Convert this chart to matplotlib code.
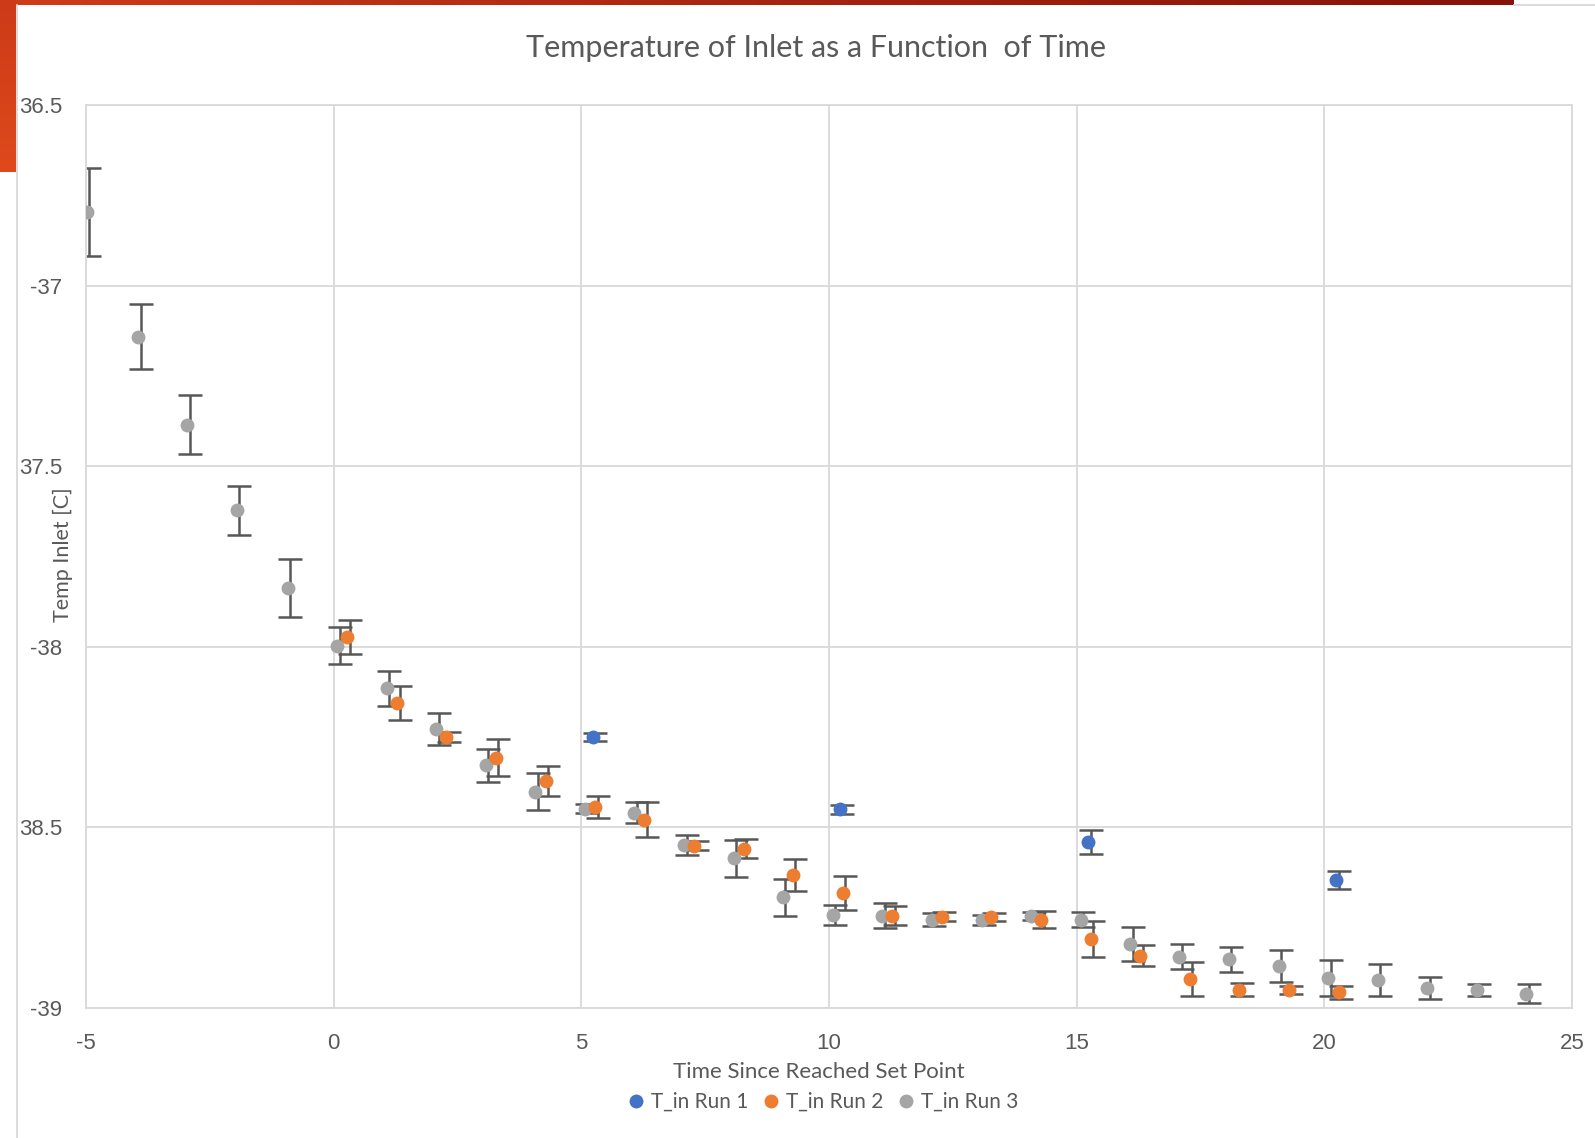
import numpy as np
import matplotlib
matplotlib.use("Agg")
from matplotlib import pyplot as plt
from matplotlib import transforms
from matplotlib.lines import Line2D
from matplotlib.colors import LinearSegmentedColormap

plt.rcParams["axes.unicode_minus"] = False

# run 1 (blue)
t_run1 = [5.23, 10.22, 15.23, 20.24]
temp_run1 = [-38.250, -38.450, -38.541, -38.646]
err_run1 = [0.012, 0.012, 0.034, 0.024]

# run 2 (orange)
t_run2 = [0.27, 1.28, 2.27, 3.27, 4.28, 5.28, 6.27, 7.28, 8.28, 9.27, 10.28,
          11.28, 12.28, 13.28, 14.28, 15.28, 16.28, 17.28, 18.28, 19.28, 20.29]
temp_run2 = [-37.973, -38.155, -38.250, -38.307, -38.372, -38.443, -38.479,
             -38.551, -38.559, -38.632, -38.682, -38.744, -38.747, -38.747,
             -38.755, -38.808, -38.855, -38.920, -38.949, -38.950, -38.957]
err_run2 = [0.047, 0.047, 0.014, 0.051, 0.041, 0.030, 0.048, 0.012, 0.027,
            0.044, 0.047, 0.027, 0.012, 0.011, 0.024, 0.050, 0.030, 0.047,
            0.018, 0.010, 0.017]

# run 3 (gray)
t_run3 = [-4.98, -3.95, -2.96, -1.96, -0.93, 0.07, 1.07, 2.07, 3.07, 4.07,
          5.07, 6.07, 7.08, 8.08, 9.07, 10.08, 11.08, 12.07, 13.08, 14.08,
          15.08, 16.08, 17.07, 18.07, 19.08, 20.08, 21.08, 22.08, 23.08, 24.08]
temp_run3 = [-36.797, -37.141, -37.385, -37.622, -37.837, -37.997, -38.115,
             -38.227, -38.328, -38.401, -38.448, -38.459, -38.548, -38.586,
             -38.693, -38.743, -38.744, -38.755, -38.756, -38.745, -38.755,
             -38.824, -38.858, -38.865, -38.883, -38.917, -38.922, -38.944,
             -38.950, -38.960]
err_run3 = [0.122, 0.089, 0.081, 0.068, 0.081, 0.051, 0.048, 0.044, 0.045,
            0.051, 0.013, 0.028, 0.028, 0.051, 0.051, 0.027, 0.034, 0.017,
            0.014, 0.010, 0.020, 0.047, 0.034, 0.034, 0.044, 0.051, 0.044,
            0.030, 0.017, 0.027]

x_ticks = [-5, 0, 5, 10, 15, 20, 25]
y_ticks = [-39, -38.5, -38, -37.5, -37, -36.5]
# the left edge of the slide cuts off some minus signs
y_ticklabels = ["-39", "38.5", "-38", "37.5", "-37", "36.5"]

series = [
    ("T_in Run 1", t_run1, temp_run1, err_run1, "#4472C4"),
    ("T_in Run 2", t_run2, temp_run2, err_run2, "#ED7D31"),
    ("T_in Run 3", t_run3, temp_run3, err_run3, "#A5A5A5"),
]

W, H = 1595, 1138
fig = plt.figure(figsize=(W / 100, H / 100), dpi=100)
text_col = "#595959"
grid_col = "#D9D9D9"

ax = fig.add_axes([86 / W, 1 - 1008 / H, (1572 - 86) / W, (1008 - 105) / H])

# error bars sit a couple of pixels right of the markers
shift = transforms.ScaledTranslation(2.5 / 100, 0, fig.dpi_scale_trans)
for name, t, v, e, col in series:
    ax.errorbar(t, v, yerr=e, fmt="none", ecolor="#575757", elinewidth=1.8,
                capsize=8.5, capthick=1.8, zorder=2,
                transform=ax.transData + shift)
for k, (name, t, v, e, col) in enumerate(series):
    ax.plot(t, v, "o", color=col, markersize=10, markeredgewidth=0,
            label=name, zorder=5 - k)

ax.set_xlim(-5, 25)
ax.set_ylim(-39, -36.5)
ax.set_xticks(x_ticks)
ax.set_yticks(y_ticks)
ax.set_yticklabels(y_ticklabels)
ax.grid(True, color=grid_col, linewidth=1.3)
ax.set_axisbelow(True)
for s in ax.spines.values():
    s.set_color(grid_col)
    s.set_linewidth(1.3)
ax.tick_params(length=0, labelsize=16, labelcolor=text_col)
ax.tick_params(axis="y", pad=17)
ax.tick_params(axis="x", pad=18)
for lab in ax.get_xticklabels() + ax.get_yticklabels():
    lab.set_family("Liberation Sans")

fig.text(816 / W, 1 - 48 / H, "Temperature of Inlet as a Function  of Time",
         ha="center", va="center", fontsize=22, color=text_col, family="Lato")
fig.text(819 / W, 1 - 1072 / H, "Time Since Reached Set Point",
         ha="center", va="center", fontsize=16, color=text_col, family="Lato")
fig.text(63 / W, 1 - 555 / H, "Temp Inlet [C]", rotation=90,
         ha="center", va="center", fontsize=15.5, color=text_col, family="Lato")

handles, labels = ax.get_legend_handles_labels()
fig.legend(handles, labels, loc="center", bbox_to_anchor=(822 / W, 1 - 1102 / H),
           ncol=3, frameon=False, labelcolor=text_col,
           handletextpad=0.2, columnspacing=0.6, handlelength=1.0,
           prop={"family": "Lato", "size": 15})

# slide decoration: gradient bar on top, orange block on the left
top = fig.add_axes([0, 1 - 5 / H, 1514 / W, 5 / H])
cm = LinearSegmentedColormap.from_list("bar", ["#CF3C18", "#A82510", "#86120A"])
top.imshow(np.linspace(0, 1, 256)[None, :], aspect="auto", cmap=cm)
top.axis("off")

side = fig.add_axes([0, 1 - 172 / H, 16 / W, 172 / H])
side.imshow(np.linspace(0, 1, 64)[:, None], aspect="auto",
            cmap=LinearSegmentedColormap.from_list("side", ["#CC3A18", "#DE4A1C"]))
side.axis("off")

fig.add_artist(Line2D([17 / W, 17 / W], [0, 1 - 5 / H], color="#D5D5D5", linewidth=1.2))
fig.add_artist(Line2D([1514 / W, 1], [1 - 5 / H, 1 - 5 / H], color="#D5D5D5", linewidth=1.2))

fig.savefig("out.png", dpi=100)
